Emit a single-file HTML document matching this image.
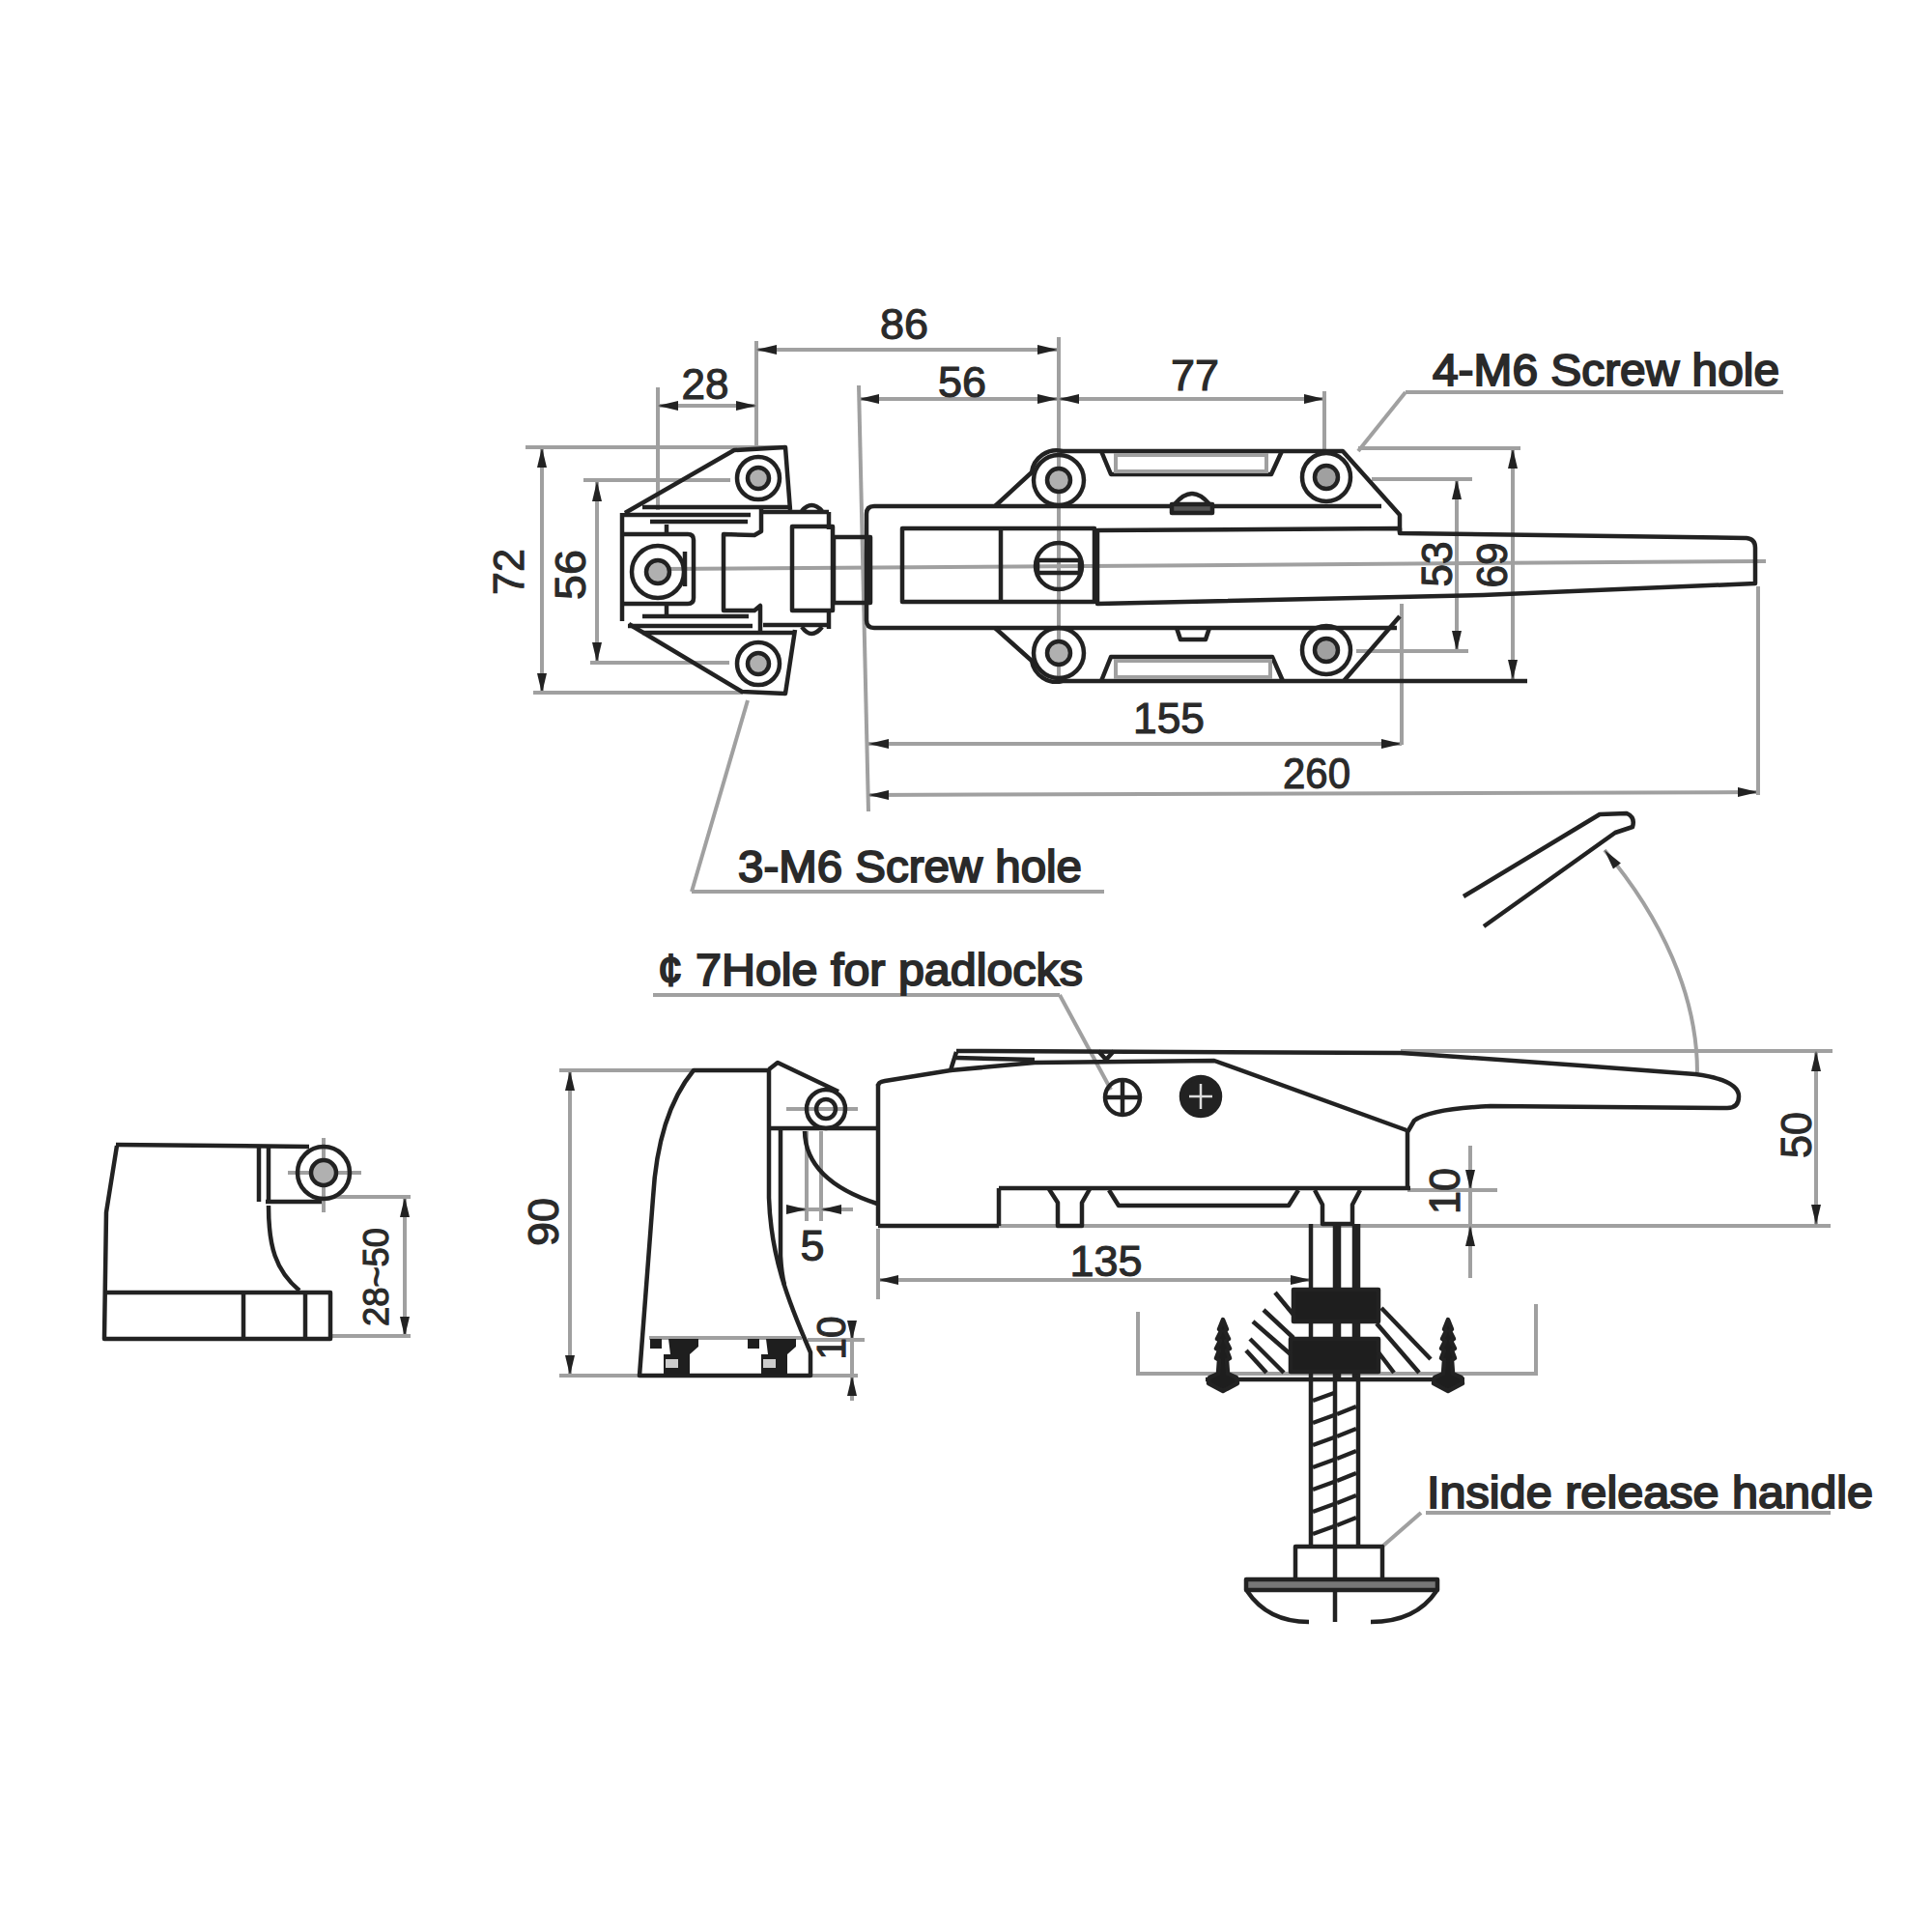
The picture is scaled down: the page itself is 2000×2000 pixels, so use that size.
<!DOCTYPE html>
<html><head><meta charset="utf-8"><style>
html,body{margin:0;padding:0;background:#fff;}
svg{display:block;}
.k{stroke:#222;stroke-width:4.5;fill:none;stroke-linejoin:round;}
.g{stroke:#a0a0a0;stroke-width:4;fill:none;}
.w{stroke:#ddd;fill:none;}
.ar{fill:#222;}
.t{font-family:"Liberation Sans",sans-serif;fill:#2a2a2a;stroke:#2a2a2a;stroke-width:1.1;}
.tb{font-family:"Liberation Sans",sans-serif;fill:#2a2a2a;stroke:#2a2a2a;stroke-width:1.9;}
</style></head><body>
<svg width="2000" height="2000" viewBox="0 0 2000 2000">
<rect width="2000" height="2000" fill="#fff"/>
<line x1="683" y1="589" x2="1828" y2="581" class="g"/>
<line x1="783" y1="362" x2="1095" y2="362" class="g"/>
<line x1="783" y1="353" x2="783" y2="463" class="g"/>
<polygon points="783.0,362.0 804.0,357.0 804.0,367.0" class="ar"/>
<polygon points="1095.0,362.0 1074.0,367.0 1074.0,357.0" class="ar"/>
<line x1="1096" y1="349" x2="1096" y2="706" class="g"/>
<line x1="680" y1="420" x2="784" y2="420" class="g"/>
<line x1="681" y1="401" x2="681" y2="528" class="g"/>
<polygon points="681.0,420.0 702.0,415.0 702.0,425.0" class="ar"/>
<polygon points="783.0,420.0 762.0,425.0 762.0,415.0" class="ar"/>
<line x1="889" y1="413" x2="1095" y2="413" class="g"/>
<polygon points="889.0,413.0 910.0,408.0 910.0,418.0" class="ar"/>
<polygon points="1095.0,413.0 1074.0,418.0 1074.0,408.0" class="ar"/>
<line x1="889" y1="399" x2="899" y2="840" class="g"/>
<line x1="1095" y1="413" x2="1371" y2="413" class="g"/>
<polygon points="1096.0,413.0 1117.0,408.0 1117.0,418.0" class="ar"/>
<polygon points="1371.0,413.0 1350.0,418.0 1350.0,408.0" class="ar"/>
<line x1="1371" y1="405" x2="1371" y2="470" class="g"/>
<line x1="561" y1="463" x2="561" y2="718" class="g"/>
<polygon points="561.0,463.0 566.0,484.0 556.0,484.0" class="ar"/>
<polygon points="561.0,718.0 556.0,697.0 566.0,697.0" class="ar"/>
<line x1="544" y1="463" x2="813" y2="463" class="g"/>
<line x1="552" y1="717" x2="769" y2="717" class="g"/>
<line x1="618" y1="498" x2="618" y2="686" class="g"/>
<polygon points="618.0,498.0 623.0,519.0 613.0,519.0" class="ar"/>
<polygon points="618.0,686.0 613.0,665.0 623.0,665.0" class="ar"/>
<line x1="604" y1="497" x2="756" y2="497" class="g"/>
<line x1="611" y1="686" x2="755" y2="686" class="g"/>
<line x1="1508" y1="496" x2="1508" y2="674" class="g"/>
<polygon points="1508.0,496.0 1513.0,517.0 1503.0,517.0" class="ar"/>
<polygon points="1508.0,674.0 1503.0,653.0 1513.0,653.0" class="ar"/>
<line x1="1420" y1="496" x2="1524" y2="496" class="g"/>
<line x1="1404" y1="674" x2="1520" y2="674" class="g"/>
<line x1="1566" y1="464" x2="1566" y2="704" class="g"/>
<polygon points="1566.0,464.0 1571.0,485.0 1561.0,485.0" class="ar"/>
<polygon points="1566.0,704.0 1561.0,683.0 1571.0,683.0" class="ar"/>
<line x1="1406" y1="464" x2="1574" y2="464" class="g"/>
<line x1="899" y1="770" x2="1451" y2="770" class="g"/>
<polygon points="899.0,770.0 920.0,765.0 920.0,775.0" class="ar"/>
<polygon points="1451.0,770.0 1430.0,775.0 1430.0,765.0" class="ar"/>
<line x1="1451" y1="625" x2="1451" y2="771" class="g"/>
<line x1="899" y1="823" x2="1820" y2="820" class="g"/>
<polygon points="899.0,823.0 920.0,818.0 920.0,828.0" class="ar"/>
<polygon points="1820.0,820.0 1799.0,825.0 1799.0,815.0" class="ar"/>
<line x1="1820" y1="607" x2="1820" y2="823" class="g"/>
<line x1="1455" y1="406" x2="1846" y2="406" class="g"/>
<line x1="1455" y1="406" x2="1406" y2="467" class="g" stroke-width="2.5"/>
<line x1="716" y1="923" x2="1143" y2="923" class="g"/>
<line x1="716" y1="923" x2="774" y2="725" class="g" stroke-width="2.5"/>
<text x="936" y="351" text-anchor="middle" font-size="45" class="t" textLength="50" lengthAdjust="spacingAndGlyphs">86</text>
<text x="730" y="413" text-anchor="middle" font-size="45" class="t" textLength="49" lengthAdjust="spacingAndGlyphs">28</text>
<text x="996" y="411" text-anchor="middle" font-size="45" class="t" textLength="50" lengthAdjust="spacingAndGlyphs">56</text>
<text x="1237" y="404" text-anchor="middle" font-size="45" class="t" textLength="50" lengthAdjust="spacingAndGlyphs">77</text>
<text x="1210" y="759" text-anchor="middle" font-size="45" class="t" textLength="74" lengthAdjust="spacingAndGlyphs">155</text>
<text x="1363" y="816" text-anchor="middle" font-size="45" class="t" textLength="70" lengthAdjust="spacingAndGlyphs">260</text>
<text transform="translate(542,592) rotate(-90)" x="0" y="0" text-anchor="middle" font-size="45" class="t" textLength="48" lengthAdjust="spacingAndGlyphs">72</text>
<text transform="translate(606,595) rotate(-90)" x="0" y="0" text-anchor="middle" font-size="45" class="t" textLength="52" lengthAdjust="spacingAndGlyphs">56</text>
<text transform="translate(1503,584) rotate(-90)" x="0" y="0" text-anchor="middle" font-size="45" class="t" textLength="47" lengthAdjust="spacingAndGlyphs">53</text>
<text transform="translate(1560,585) rotate(-90)" x="0" y="0" text-anchor="middle" font-size="45" class="t" textLength="47" lengthAdjust="spacingAndGlyphs">69</text>
<text x="1483" y="399" text-anchor="start" font-size="46" class="tb" textLength="359" lengthAdjust="spacingAndGlyphs">4-M6 Screw hole</text>
<text x="764" y="913" text-anchor="start" font-size="46" class="tb" textLength="356" lengthAdjust="spacingAndGlyphs">3-M6 Screw hole</text>
<path d="M647,531 L760,466 L813,463 L818,528" class="k"/>
<line x1="665" y1="525" x2="818" y2="525" class="k"/>
<circle cx="785" cy="495" r="22" class="k"/>
<circle cx="785" cy="495" r="11" class="k" style="fill:#b0b0b0"/>
<path d="M651,646 L768,716 L813,718 L823,652" class="k"/>
<line x1="665" y1="655" x2="823" y2="655" class="k"/>
<circle cx="785" cy="687" r="22" class="k"/>
<circle cx="785" cy="687" r="11" class="k" style="fill:#b0b0b0"/>
<line x1="644" y1="531" x2="644" y2="643" class="k"/>
<line x1="646" y1="533" x2="777" y2="533" class="k"/>
<line x1="673" y1="540" x2="774" y2="540" class="k"/>
<path d="M644,553 L712,553 Q718,553 718,559 L718,619 Q718,625 712,625 L644,625" class="k"/>
<line x1="690" y1="543" x2="690" y2="553" class="k"/>
<line x1="690" y1="625" x2="690" y2="640" class="k"/>
<path d="M788,525 L788,550 L781,554 L749,553 L749,632 L781,632 L787,627 L787,657" class="k"/>
<circle cx="681" cy="592" r="27" class="k"/>
<circle cx="681" cy="592" r="12" class="k" style="fill:#b0b0b0"/>
<line x1="709" y1="571" x2="709" y2="607" class="k"/>
<line x1="665" y1="638" x2="775" y2="638" class="k"/>
<line x1="650" y1="648" x2="779" y2="648" class="k"/>
<rect x="820" y="545" width="42" height="87" class="k"/>
<line x1="790" y1="530" x2="858" y2="530" class="k"/>
<line x1="858" y1="530" x2="858" y2="548" class="k"/>
<path d="M830,529 Q840,517 851,529" class="k"/>
<line x1="790" y1="647" x2="858" y2="647" class="k"/>
<line x1="858" y1="632" x2="858" y2="651" class="k"/>
<path d="M830,649 Q840,663 851,649" class="k"/>
<rect x="863" y="556" width="38" height="68" class="k"/>
<path d="M1430,524 L905,524 Q897,524 897,532 L897,642 Q897,650 905,650 L1446,650" class="k"/>
<path d="M1030,524 L1068,489 A26,26 0 0 1 1100,467 L1390,467 L1449,533 L1449,551" class="k"/>
<path d="M1140,467 L1150,491 L1316,491 L1327,467" class="k"/>
<rect x="1155" y="471" width="156" height="17" class="g" stroke-width="3"/>
<circle cx="1373" cy="494" r="25" class="k"/>
<circle cx="1373" cy="494" r="12" class="k" style="fill:#a0a0a0"/>
<circle cx="1096" cy="497" r="26" class="k"/>
<circle cx="1096" cy="497" r="12" class="k" style="fill:#b0b0b0"/>
<path d="M1216,522 Q1234,500 1252,522" class="k"/>
<rect x="1213" y="522" width="42" height="9" class="k" style="fill:#555"/>
<path d="M1218,650 L1222,662 L1248,662 L1252,650" class="k"/>
<path d="M1030,650 L1068,684 A26,26 0 0 0 1100,705 L1581,705" class="k"/>
<line x1="1391" y1="705" x2="1449" y2="638" class="k"/>
<path d="M1140,705 L1150,680 L1317,680 L1328,705" class="k"/>
<rect x="1155" y="684" width="160" height="17" class="g" stroke-width="3"/>
<circle cx="1096" cy="676" r="26" class="k"/>
<circle cx="1096" cy="676" r="12" class="k" style="fill:#b0b0b0"/>
<circle cx="1373" cy="673" r="25" class="k"/>
<circle cx="1373" cy="673" r="12" class="k" style="fill:#a0a0a0"/>
<rect x="934" y="547" width="199" height="76" class="k"/>
<line x1="1036" y1="547" x2="1036" y2="623" class="k"/>
<circle cx="1096" cy="586" r="24" class="k"/>
<rect x="1074" y="580" width="44" height="13" class="k" stroke-width="4"/>
<path d="M1136,549 L1449,547 L1449,552 L1808,557 Q1817,558 1817,567 L1817,604 L1535,616 L1136,625 Z" class="k"/>
<line x1="590" y1="1108" x2="590" y2="1424" class="g"/>
<polygon points="590.0,1108.0 595.0,1129.0 585.0,1129.0" class="ar"/>
<polygon points="590.0,1424.0 585.0,1403.0 595.0,1403.0" class="ar"/>
<line x1="579" y1="1108" x2="718" y2="1108" class="g"/>
<line x1="579" y1="1424" x2="662" y2="1424" class="g"/>
<line x1="835" y1="1171" x2="835" y2="1264" class="g" stroke-width="3"/>
<line x1="850" y1="1171" x2="850" y2="1264" class="g" stroke-width="3"/>
<line x1="815" y1="1252" x2="883" y2="1252" class="g"/>
<polygon points="835.0,1252.0 814.0,1257.0 814.0,1247.0" class="ar"/>
<polygon points="850.0,1252.0 871.0,1247.0 871.0,1257.0" class="ar"/>
<line x1="909" y1="1325" x2="1357" y2="1325" class="g"/>
<polygon points="909.0,1325.0 930.0,1320.0 930.0,1330.0" class="ar"/>
<polygon points="1357.0,1325.0 1336.0,1330.0 1336.0,1320.0" class="ar"/>
<line x1="909" y1="1272" x2="909" y2="1345" class="g"/>
<line x1="882" y1="1368" x2="882" y2="1450" class="g"/>
<polygon points="882.0,1388.0 877.0,1367.0 887.0,1367.0" class="ar"/>
<polygon points="882.0,1424.0 887.0,1445.0 877.0,1445.0" class="ar"/>
<line x1="836" y1="1387" x2="895" y2="1387" class="g"/>
<line x1="840" y1="1424" x2="888" y2="1424" class="g"/>
<line x1="1450" y1="1088" x2="1897" y2="1088" class="g"/>
<line x1="1034" y1="1269" x2="1895" y2="1269" class="g"/>
<line x1="1880" y1="1088" x2="1880" y2="1268" class="g"/>
<polygon points="1880.0,1088.0 1885.0,1109.0 1875.0,1109.0" class="ar"/>
<polygon points="1880.0,1268.0 1875.0,1247.0 1885.0,1247.0" class="ar"/>
<line x1="1522" y1="1186" x2="1522" y2="1323" class="g"/>
<polygon points="1522.0,1232.0 1517.0,1211.0 1527.0,1211.0" class="ar"/>
<polygon points="1522.0,1269.0 1527.0,1290.0 1517.0,1290.0" class="ar"/>
<line x1="1457" y1="1232" x2="1550" y2="1232" class="g"/>
<path d="M1661,880 C1720,950 1757,1030 1757,1110" class="g"/>
<polygon points="1661.0,880.0 1677.9,893.5 1670.0,899.6" class="ar"/>
<line x1="676" y1="1030" x2="1097" y2="1030" class="g"/>
<line x1="1097" y1="1030" x2="1150" y2="1128" class="g" stroke-width="2.5"/>
<line x1="1476" y1="1566" x2="1895" y2="1566" class="g"/>
<line x1="1471" y1="1566" x2="1432" y2="1600" class="g" stroke-width="2.5"/>
<path d="M1178,1358 L1178,1422 L1590,1422 L1590,1350" class="g"/>
<line x1="419" y1="1239" x2="419" y2="1384" class="g"/>
<polygon points="419.0,1239.0 424.0,1260.0 414.0,1260.0" class="ar"/>
<polygon points="419.0,1384.0 414.0,1363.0 424.0,1363.0" class="ar"/>
<line x1="344" y1="1239" x2="425" y2="1239" class="g"/>
<line x1="342" y1="1383" x2="425" y2="1383" class="g"/>
<text transform="translate(578,1265) rotate(-90)" x="0" y="0" text-anchor="middle" font-size="45" class="t" textLength="50" lengthAdjust="spacingAndGlyphs">90</text>
<text x="841" y="1305" text-anchor="middle" font-size="45" class="t">5</text>
<text x="1145" y="1321" text-anchor="middle" font-size="45" class="t" textLength="75" lengthAdjust="spacingAndGlyphs">135</text>
<text transform="translate(1875,1175) rotate(-90)" x="0" y="0" text-anchor="middle" font-size="45" class="t" textLength="48" lengthAdjust="spacingAndGlyphs">50</text>
<text transform="translate(1511,1233) rotate(-90)" x="0" y="0" text-anchor="middle" font-size="45" class="t" textLength="48" lengthAdjust="spacingAndGlyphs">10</text>
<text transform="translate(875,1385) rotate(-90)" x="0" y="0" text-anchor="middle" font-size="42" class="t" textLength="45" lengthAdjust="spacingAndGlyphs">10</text>
<text transform="translate(402,1322) rotate(-90)" x="0" y="0" text-anchor="middle" font-size="36" class="t" textLength="102" lengthAdjust="spacingAndGlyphs">28~50</text>
<text x="681" y="1020" text-anchor="start" font-size="46" class="tb">¢</text>
<text x="720" y="1020" text-anchor="start" font-size="46" class="tb" textLength="401" lengthAdjust="spacingAndGlyphs">7Hole for padlocks</text>
<text x="1477" y="1561" text-anchor="start" font-size="46" class="tb" textLength="462" lengthAdjust="spacingAndGlyphs">Inside release handle</text>
<line x1="120" y1="1185" x2="320" y2="1187" class="k"/>
<path d="M121,1186 L110,1255 L108,1386 L342,1386 L342,1338 L108,1338" class="k"/>
<line x1="252" y1="1338" x2="252" y2="1386" class="k"/>
<line x1="316" y1="1338" x2="316" y2="1386" class="k"/>
<line x1="268" y1="1186" x2="268" y2="1244" class="k"/>
<line x1="278" y1="1186" x2="278" y2="1244" class="k"/>
<line x1="275" y1="1244" x2="335" y2="1244" class="k"/>
<path d="M278,1248 C278,1290 285,1315 310,1336" class="k"/>
<line x1="335" y1="1178" x2="335" y2="1255" class="g" stroke-width="3"/>
<line x1="298" y1="1214" x2="374" y2="1214" class="g" stroke-width="3"/>
<circle cx="335" cy="1214" r="27" class="k"/>
<circle cx="335" cy="1214" r="13" class="k" style="fill:#b0b0b0"/>
<path d="M796,1108 L718,1108 C700,1130 680,1170 676,1240 L662,1424 L839,1424 L839,1400 C815,1345 798,1300 796,1240 Z" class="k"/>
<path d="M808,1169 L808,1300 Q809,1318 812,1330" class="k"/>
<line x1="672" y1="1385" x2="830" y2="1385" class="g" stroke-width="3"/>
<path d="M673,1386 h12 v10 h-12 z M692,1386 h31 v8 l-9,8 v22 h-27 v-22 h7 z" style="fill:#1e1e1e"/>
<rect x="689" y="1407" width="13" height="9" style="fill:#ccc"/>
<path d="M774,1386 h12 v10 h-12 z M793,1386 h31 v8 l-9,8 v22 h-27 v-22 h7 z" style="fill:#1e1e1e"/>
<rect x="790" y="1407" width="13" height="9" style="fill:#ccc"/>
<path d="M796,1107 L805,1100 L868,1130" class="k"/>
<line x1="814" y1="1148" x2="888" y2="1148" class="g" stroke-width="3"/>
<circle cx="855" cy="1148" r="20" class="k"/>
<circle cx="855" cy="1148" r="10" class="k"/>
<line x1="796" y1="1168" x2="908" y2="1168" class="k"/>
<path d="M833,1171 Q834,1222 908,1246" class="k"/>
<line x1="909" y1="1122" x2="909" y2="1269" class="k"/>
<line x1="909" y1="1269" x2="1034" y2="1269" class="k"/>
<line x1="1034" y1="1269" x2="1034" y2="1230" class="k"/>
<line x1="1034" y1="1230" x2="1460" y2="1230" class="k"/>
<path d="M909,1124 Q909,1120 916,1119 L984,1108 L990,1089" class="k"/>
<path d="M990,1088 L1450,1090 Q1600,1100 1755,1112 Q1800,1118 1800,1135 Q1800,1147 1788,1147 L1543,1145 Q1480,1148 1464,1160 L1457,1172 L1457,1230" class="k"/>
<path d="M984,1108 L1071,1100 L1257,1098 L1456,1170" class="k"/>
<line x1="990" y1="1095" x2="1071" y2="1097" class="k" stroke-width="3"/>
<path d="M1137,1088 L1145,1097 L1153,1088" class="k"/>
<circle cx="1162" cy="1136" r="18" class="k"/>
<line x1="1162" y1="1120" x2="1162" y2="1152" class="k" stroke-width="3"/>
<line x1="1146" y1="1136" x2="1178" y2="1136" class="k" stroke-width="3"/>
<circle cx="1243" cy="1135" r="20" class="k" style="fill:#222"/>
<line x1="1243" y1="1122" x2="1243" y2="1148" class="w" stroke-width="2.5"/>
<line x1="1231" y1="1135" x2="1255" y2="1135" class="w" stroke-width="2.5"/>
<path d="M1148,1232 L1158,1248 L1334,1248 L1344,1232" class="k"/>
<path d="M1086,1231 L1095,1245 L1095,1269 L1120,1269 L1120,1245 L1128,1231" class="k"/>
<path d="M1361,1232 L1369,1247 L1369,1267 L1400,1267 L1400,1247 L1408,1232" class="k"/>
<line x1="1357" y1="1267" x2="1357" y2="1600" class="k"/>
<line x1="1406" y1="1267" x2="1406" y2="1600" class="k"/>
<line x1="1382" y1="1267" x2="1382" y2="1679" class="k"/>
<line x1="1386" y1="1267" x2="1386" y2="1430" class="k" stroke-width="2.5"/>
<line x1="1402" y1="1267" x2="1402" y2="1430" class="k" stroke-width="2.5"/>
<rect x="1339" y="1335" width="88" height="33" class="k" style="fill:#1e1e1e"/>
<rect x="1336" y="1386" width="91" height="34" class="k" style="fill:#1e1e1e"/>
<line x1="1248" y1="1428" x2="1516" y2="1428" class="k" stroke-width="7"/>
<line x1="1320" y1="1338" x2="1339" y2="1361" class="k" stroke-width="3.2"/>
<line x1="1308" y1="1356" x2="1339" y2="1385" class="k" stroke-width="3.2"/>
<line x1="1297" y1="1368" x2="1336" y2="1402" class="k" stroke-width="3.2"/>
<line x1="1294" y1="1386" x2="1329" y2="1421" class="k" stroke-width="3.2"/>
<line x1="1290" y1="1398" x2="1311" y2="1421" class="k" stroke-width="3.2"/>
<line x1="1430" y1="1354" x2="1481" y2="1407" class="k" stroke-width="3.2"/>
<line x1="1425" y1="1370" x2="1469" y2="1421" class="k" stroke-width="3.2"/>
<line x1="1427" y1="1400" x2="1443" y2="1421" class="k" stroke-width="3.2"/>
<path d="M1266,1366 L1270,1376 L1268,1378 L1272,1386 L1269,1388 L1273,1396 L1270,1398 L1273,1406 L1270,1408 L1271,1422 L1280,1426 L1281,1432 L1266,1440 L1251,1432 L1252,1426 L1261,1422 L1262,1408 L1259,1406 L1262,1398 L1259,1396 L1263,1388 L1260,1386 L1264,1378 L1262,1376 Z" class="k" style="fill:#1e1e1e"/>
<path d="M1499,1366 L1503,1376 L1501,1378 L1505,1386 L1502,1388 L1506,1396 L1503,1398 L1506,1406 L1503,1408 L1504,1422 L1513,1426 L1514,1432 L1499,1440 L1484,1432 L1485,1426 L1494,1422 L1495,1408 L1492,1406 L1495,1398 L1492,1396 L1496,1388 L1493,1386 L1497,1378 L1495,1376 Z" class="k" style="fill:#1e1e1e"/>
<line x1="1359" y1="1450" x2="1381" y2="1442" class="k" stroke-width="4"/>
<line x1="1384" y1="1464" x2="1404" y2="1456" class="k" stroke-width="4"/>
<line x1="1359" y1="1473" x2="1381" y2="1465" class="k" stroke-width="4"/>
<line x1="1384" y1="1487" x2="1404" y2="1479" class="k" stroke-width="4"/>
<line x1="1359" y1="1496" x2="1381" y2="1488" class="k" stroke-width="4"/>
<line x1="1384" y1="1510" x2="1404" y2="1502" class="k" stroke-width="4"/>
<line x1="1359" y1="1519" x2="1381" y2="1511" class="k" stroke-width="4"/>
<line x1="1384" y1="1533" x2="1404" y2="1525" class="k" stroke-width="4"/>
<line x1="1359" y1="1542" x2="1381" y2="1534" class="k" stroke-width="4"/>
<line x1="1384" y1="1556" x2="1404" y2="1548" class="k" stroke-width="4"/>
<line x1="1359" y1="1565" x2="1381" y2="1557" class="k" stroke-width="4"/>
<line x1="1384" y1="1579" x2="1404" y2="1571" class="k" stroke-width="4"/>
<line x1="1359" y1="1588" x2="1381" y2="1580" class="k" stroke-width="4"/>
<path d="M1341,1634 L1341,1601 L1431,1601 L1431,1634" class="k"/>
<rect x="1290" y="1635" width="198" height="11" class="k" stroke-width="4.5" style="fill:#777"/>
<path d="M1291,1647 C1305,1668 1325,1679 1355,1679" class="k"/>
<path d="M1487,1647 C1473,1668 1450,1679 1419,1679" class="k"/>
<path d="M1515,928 L1656,843 L1684,842 Q1693,846 1690,856 L1672,862 L1536,959" class="k"/>
</svg></body></html>
